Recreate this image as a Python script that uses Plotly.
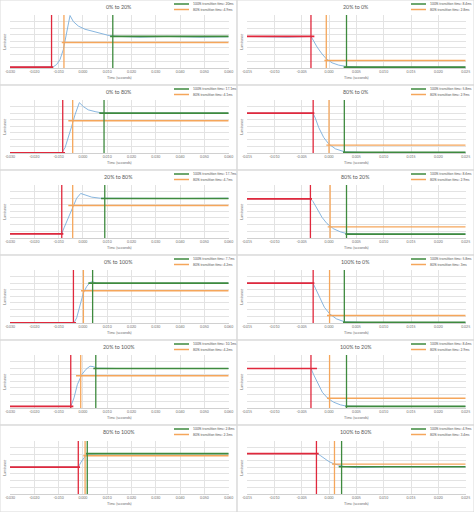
import plotly.graph_objects as go

W, H = 474, 512

titles = ["0% to 20%", "20% to 0%", "0% to 80%", "80% to 0%", "20% to 80%", "80% to 20%",
          "0% to 100%", "100% to 0%", "20% to 100%", "100% to 20%", "80% to 100%", "100% to 80%"]
legend_100 = ["100% transition time: 20ms", "100% transition time: 8.4ms", "100% transition time: 17.1ms",
              "100% transition time: 5.8ms", "100% transition time: 17.7ms", "100% transition time: 8.6ms",
              "100% transition time: 7.7ms", "100% transition time: 5.8ms", "100% transition time: 10.1ms",
              "100% transition time: 8.4ms", "100% transition time: 2.8ms", "100% transition time: 4.9ms"]
legend_80 = ["80% transition time: 4.9ms", "80% transition time: 2.8ms", "80% transition time: 4.1ms",
             "80% transition time: 2.9ms", "80% transition time: 4.7ms", "80% transition time: 2.9ms",
             "80% transition time: 4.2ms", "80% transition time: 3ms", "80% transition time: 4.2ms",
             "80% transition time: 2.9ms", "80% transition time: 2.3ms", "80% transition time: 3.4ms"]

left_ticks = [-0.03, -0.02, -0.01, 0.0, 0.01, 0.02, 0.03, 0.04, 0.05, 0.06]
right_ticks = [-0.015, -0.01, -0.005, 0.0, 0.005, 0.01, 0.015, 0.02, 0.025]

# transition markers (seconds)
t_start = [-0.0129, -0.0033, -0.0083, -0.0029, -0.0087, -0.0034, -0.0039, -0.0029, -0.0050, -0.0033, -0.0019, -0.0023]
t_80 = [-0.0078, -0.0005, -0.0042, 0.0000, -0.0042, 0.0002, 0.0002, 0.0001, -0.0009, 0.0001, 0.0009, 0.0010]
t_100 = [0.0123, 0.0032, 0.0087, 0.0028, 0.0090, 0.0032, 0.0040, 0.0028, 0.0053, 0.0032, 0.0018, 0.0023]
# levels (relative luminance)
lvl_start = [0.0125, 0.594, 0.0, 0.75, 0.075, 0.7375, 0.0, 0.75, 0.025, 0.744, 0.506, 0.7625]
lvl_80 = [0.48, 0.1375, 0.606, 0.144, 0.6125, 0.206, 0.606, 0.1375, 0.606, 0.181, 0.72, 0.5625]
lvl_end = [0.594, 0.0125, 0.75, 0.006, 0.744, 0.069, 0.75, 0.006, 0.744, 0.025, 0.7625, 0.5125]
# where the level lines begin / end
start_line_end = [-0.0122, -0.00268, -0.00736, -0.00268, -0.00805, -0.00311, -0.00283, -0.00268, -0.00393, -0.0022, -0.00119, -0.00189]
l80_begin = [-0.0087, -0.00085, -0.006, -0.00049, -0.006, -0.00024, -0.00078, -0.00037, -0.00284, -0.00037, 0.00018, 0.00055]
l100_begin = [0.0112, 0.00268, 0.00677, 0.00256, 0.00746, 0.003, 0.00224, 0.00256, 0.0043, 0.003, 0.00128, 0.00177]

# luminance curves
t_0_20 = [-0.030, -0.01354, -0.01216, -0.01079, -0.00942, -0.00805, -0.00668, -0.0053, -0.00393, -0.00187, 0.00087, 0.0043, 0.00773, 0.01116, 0.01528, 0.0235, 0.0345, 0.0482, 0.060]
l_0_20 = [0.0125, 0.0125, 0.019, 0.0625, 0.156, 0.344, 0.656, 0.99, 0.875, 0.79, 0.73, 0.69, 0.64, 0.606, 0.594, 0.58, 0.594, 0.58, 0.5875]
t_20_0 = [-0.015, -0.01073, -0.00768, -0.00329, -0.0028, -0.00219, -0.00128, -0.00049, 0.00055, 0.00177, 0.00317, 0.00634, 0.025]
l_20_0 = [0.594, 0.58, 0.58, 0.594, 0.5, 0.394, 0.2625, 0.169, 0.094, 0.05, 0.025, 0.0125, 0.0125]
t_0_80 = [-0.03, -0.00873, -0.00736, -0.006, -0.00462, -0.00325, -0.00146, 0.00018, 0.00224, 0.005, 0.00773, 0.0139, 0.0276, 0.0413, 0.06]
l_0_80 = [0.0, 0.0, 0.094, 0.28, 0.5, 0.72, 0.95, 0.875, 0.8125, 0.78, 0.756, 0.75, 0.744, 0.75, 0.75]
t_80_0 = [-0.015, -0.00293, -0.0025, -0.00189, -0.00097, -0.00006, 0.00116, 0.00281, 0.00634, 0.025]
l_80_0 = [0.75, 0.75, 0.656, 0.48, 0.29, 0.169, 0.075, 0.019, 0.006, 0.006]
t_20_80 = [-0.03, -0.00873, -0.00777, -0.006, -0.00421, -0.00256, -0.00091, 0.00087, 0.00361, 0.0071, 0.0208, 0.0413, 0.06]
l_20_80 = [0.075, 0.075, 0.1875, 0.375, 0.58, 0.75, 0.84, 0.8125, 0.77, 0.75, 0.744, 0.744, 0.75]
t_80_20 = [-0.015, -0.00341, -0.00293, -0.0022, -0.00128, -0.00037, 0.00085, 0.00207, 0.00317, 0.00634, 0.025]
l_80_20 = [0.7375, 0.7375, 0.6875, 0.544, 0.3875, 0.269, 0.169, 0.1125, 0.081, 0.069, 0.069]
t_0_100 = [-0.03, -0.00366, -0.00256, -0.00119, 0.00018, 0.00156, 0.00293, 0.00389, 0.00567, 0.0139, 0.0345, 0.06]
l_0_100 = [0.0, 0.0, 0.094, 0.344, 0.5625, 0.6875, 0.7625, 0.78, 0.75, 0.744, 0.75, 0.75]
t_100_0 = [-0.015, -0.00293, -0.00244, -0.00171, -0.00085, 0.00012, 0.00134, 0.00281, 0.00634, 0.025]
l_100_0 = [0.75, 0.75, 0.644, 0.469, 0.294, 0.169, 0.075, 0.019, 0.006, 0.006]
t_20_100 = [-0.03, -0.005, -0.00366, -0.00229, -0.00051, 0.00128, 0.00293, 0.0043, 0.00595, 0.0139, 0.0345, 0.06]
l_20_100 = [0.025, 0.025, 0.1875, 0.4375, 0.625, 0.73, 0.7875, 0.78, 0.75, 0.744, 0.744, 0.744]
t_100_20 = [-0.015, -0.00329, -0.0028, -0.00207, -0.00122, -0.00024, 0.00085, 0.00207, 0.00317, 0.00756, 0.025]
l_100_20 = [0.744, 0.744, 0.625, 0.469, 0.294, 0.181, 0.106, 0.056, 0.031, 0.025, 0.025]
t_80_100 = [-0.03, -0.00187, -0.00077, 0.00018, 0.00115, 0.00224, 0.0071, 0.06]
l_80_100 = [0.506, 0.506, 0.6, 0.675, 0.725, 0.756, 0.7625, 0.7625]
t_100_80 = [-0.015, -0.0022, -0.00159, -0.00085, -0.00006, 0.00085, 0.00177, 0.00268, 0.00512, 0.00695, 0.01061, 0.025]
l_100_80 = [0.7625, 0.7625, 0.725, 0.6625, 0.6125, 0.569, 0.5375, 0.519, 0.494, 0.5, 0.5125, 0.5125]

curve_t = [t_0_20, t_20_0, t_0_80, t_80_0, t_20_80, t_80_20, t_0_100, t_100_0, t_20_100, t_100_20, t_80_100, t_100_80]
curve_l = [l_0_20, l_20_0, l_0_80, l_80_0, l_20_80, l_80_20, l_0_100, l_100_0, l_20_100, l_100_20, l_80_100, l_100_80]

BLUE = "#7aaedb"
RED = "#e0283c"
ORANGE = "#f5a65b"
GREEN = "#3e8a3e"
GRID = "#e3e3e3"
TXT = "#595959"
FONT = "Lato"

fig = go.Figure()
col_w = 237
row_y = [0, 85, 170, 255, 340, 425]
row_h = [85, 85, 85, 85, 85, 87]
shapes = []
annotations = []
layout_axes = {}

for i in range(12):
    r, c = divmod(i, 2)
    k = i + 1
    xa = "x" if k == 1 else f"x{k}"
    ya = "y" if k == 1 else f"y{k}"
    x0 = c * col_w
    y0 = row_y[r]
    top = y0 + (16 if r == 5 else 15)
    bot = y0 + (69.3 if r == 5 else 68.3)
    ticks = left_ticks if c == 0 else right_ticks
    xmin, xmax = ticks[0], ticks[-1]

    common = dict(xaxis=xa, yaxis=ya, mode="lines", showlegend=False, hoverinfo="skip")
    fig.add_trace(go.Scatter(x=curve_t[i], y=curve_l[i], line=dict(color=BLUE, width=0.9), **common))
    fig.add_trace(go.Scatter(x=[l80_begin[i], xmax], y=[lvl_80[i]] * 2, line=dict(color=ORANGE, width=1.4), **common))
    fig.add_trace(go.Scatter(x=[l100_begin[i], xmax], y=[lvl_end[i]] * 2, line=dict(color=GREEN, width=1.7), **common))
    fig.add_trace(go.Scatter(x=[xmin, start_line_end[i]], y=[lvl_start[i]] * 2, line=dict(color=RED, width=1.7), **common))
    fig.add_trace(go.Scatter(x=[t_start[i]] * 2, y=[-0.01, 1.0], line=dict(color=RED, width=1.3), **common))
    fig.add_trace(go.Scatter(x=[t_80[i]] * 2, y=[-0.01, 1.0], line=dict(color=ORANGE, width=1.3), **common))
    fig.add_trace(go.Scatter(x=[t_100[i]] * 2, y=[-0.01, 1.0], line=dict(color=GREEN, width=1.3), **common))

    xkey = "xaxis" if k == 1 else f"xaxis{k}"
    ykey = "yaxis" if k == 1 else f"yaxis{k}"
    layout_axes[xkey] = dict(
        domain=[(x0 + 10) / W, (x0 + 228.7) / W], anchor=ya,
        range=[xmin, xmax], tickvals=ticks, ticktext=[f"{v:.3f}" for v in ticks],
        showgrid=True, gridcolor=GRID, gridwidth=0.8, zeroline=False,
        showline=True, linecolor="#d0d0d0", linewidth=0.8, ticks="",
        tickfont=dict(size=3.5, color="#6f6f6f", family=FONT),
        title=dict(text="Time (seconds)", font=dict(size=3.8, color="#6f6f6f", family=FONT), standoff=2),
        automargin=False, fixedrange=True,
    )
    layout_axes[ykey] = dict(
        domain=[1 - bot / H, 1 - top / H], anchor=xa,
        range=[-0.01, 1.0], tick0=0, dtick=0.125,
        showgrid=True, gridcolor=GRID, gridwidth=0.8, zeroline=False,
        showticklabels=False, ticks="", showline=False,
        title=dict(text="Luminance", font=dict(size=3.4, color="#6f6f6f", family=FONT), standoff=2),
        automargin=False, fixedrange=True,
    )

    # panel frame
    shapes.append(dict(type="rect", xref="paper", yref="paper",
                       x0=x0 / W, x1=(x0 + col_w) / W, y0=1 - (y0 + row_h[r]) / H, y1=1 - y0 / H,
                       line=dict(color="#d9d9d9", width=1), layer="below"))
    # title
    annotations.append(dict(text=titles[i], xref="paper", yref="paper",
                            x=(x0 + 118.5) / W, y=1 - (y0 + 6.5) / H, xanchor="center", yanchor="middle",
                            showarrow=False, font=dict(size=5.3, color=TXT, family=FONT)))
    # legend
    for j, (txt, colr, ly) in enumerate([(legend_100[i], GREEN, 4.0), (legend_80[i], ORANGE, 9.5)]):
        shapes.append(dict(type="line", xref="paper", yref="paper",
                           x0=(x0 + 174) / W, x1=(x0 + 189) / W,
                           y0=1 - (y0 + ly) / H, y1=1 - (y0 + ly) / H,
                           line=dict(color=colr, width=1.5)))
        annotations.append(dict(text=txt, xref="paper", yref="paper",
                                x=(x0 + 190.5) / W, y=1 - (y0 + ly) / H, xanchor="left", yanchor="middle",
                                showarrow=False, font=dict(size=3.35, color=TXT, family=FONT)))

fig.update_layout(
    width=W, height=H, margin=dict(l=0, r=0, t=0, b=0),
    paper_bgcolor="white", plot_bgcolor="white",
    shapes=shapes, annotations=annotations, showlegend=False,
    font=dict(family=FONT),
    **layout_axes,
)

fig.write_html("out.html", config={"displayModeBar": False},
               post_script="document.body.style.margin='0';document.body.style.overflow='hidden';")
